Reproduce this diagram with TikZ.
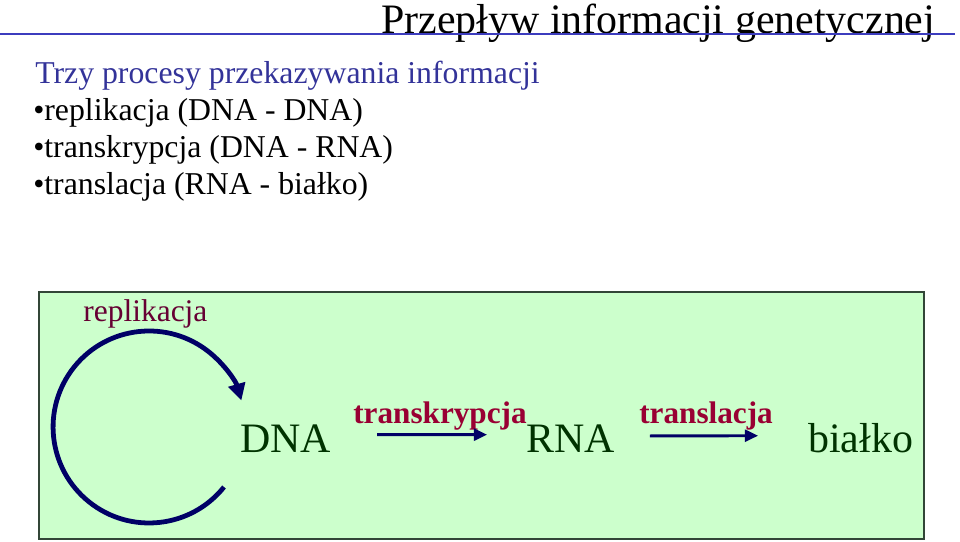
\documentclass[tikz,border=0pt]{standalone}
\usepackage{fontspec}
\setmainfont{Liberation Serif}
\usetikzlibrary{arrows.meta,positioning}
\definecolor{headblue}{RGB}{51,51,153}
\definecolor{ruleblue}{RGB}{60,60,190}
\definecolor{boxgreen}{RGB}{204,255,204}
\definecolor{boxline}{RGB}{50,70,55}
\definecolor{navy}{RGB}{0,0,102}
\definecolor{repcol}{RGB}{102,0,51}
\definecolor{molgreen}{RGB}{0,51,0}
\definecolor{proccol}{RGB}{153,0,51}

\tikzset{
 txt/.style={anchor=base west,inner sep=0pt,font=\fontsize{22.6}{27}\selectfont},
 mol/.style={anchor=base west,inner sep=0pt,text=molgreen,font=\fontsize{29.8}{35}\selectfont},
 proc/.style={anchor=base west,inner sep=0pt,text=proccol,font=\fontsize{22.2}{26}\selectfont\bfseries},
 flow/.style={navy,line width=2.1pt,-{Triangle[length=9.5pt,width=8.5pt]}},
}

\begin{document}
\begin{tikzpicture}[x=0.025cm,y=-0.025cm]
\useasboundingbox (0,0) rectangle (960,541);
% heading
\node[txt,font=\fontsize{29.8}{35}\selectfont] (title) at (381,33) {Przepływ informacji genetycznej};
\draw[ruleblue,line width=0.8pt] (0,34)--(955,34);
\node[txt,text=headblue] (sub) at (35,83) {Trzy procesy przekazywania informacji};
\foreach \t [count=\i] in {replikacja (DNA - DNA),transkrypcja (DNA - RNA),translacja (RNA - białko)}{
 \node[txt] (item\i) at (33,{83+37*\i}) {•\t};
}
% scheme
\draw[boxline,fill=boxgreen,line width=0.9pt] (39,292) rectangle (924,539);
\node[txt,text=repcol,font=\fontsize{22.4}{27}\selectfont] (replab) at (83,321) {replikacja};
\node[mol] (dna) at (240,452) {DNA};
\node[mol] (rna) at (526,452) {RNA};
\node[mol] (bialko) at (808,452) {białko};
\node[proc] (trlab) at (353,423) {transkrypcja};
\node[proc] (tllab) at (639,423) {translacja};
\draw[flow,shorten <=46pt*0.709,shorten >=39pt*0.709] ([yshift=2.5pt]dna.east)--([yshift=2.5pt]rna.west);
\draw[flow,shorten <=35pt*0.709,shorten >=50pt*0.709] ([yshift=1.5pt]rna.east)--([yshift=1.5pt]bialko.west);
\coordinate (repstart) at (224,487);
\draw[navy,line width=3.4pt,-{Triangle[length=12pt,width=12pt]}] (repstart) arc[start angle=38.7,end angle=344,radius=96];
\end{tikzpicture}
\end{document}
